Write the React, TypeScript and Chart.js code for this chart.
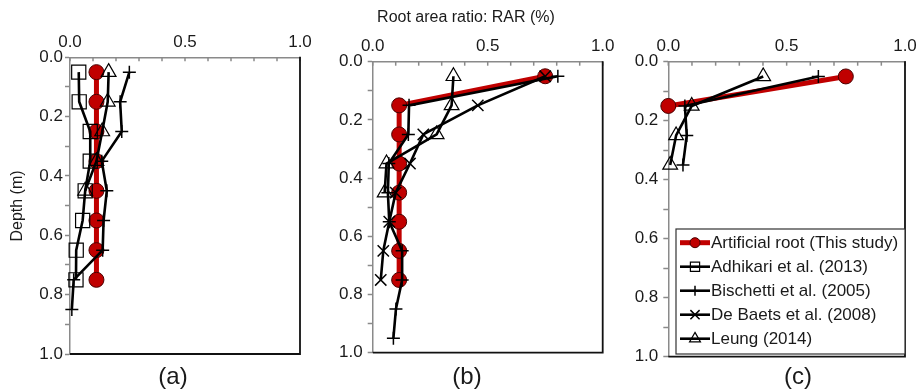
import React, { useEffect, useRef } from 'react';
import { Chart, registerables } from 'chart.js';

Chart.register(...registerables);

// ---------- data ----------
const DEPTHS = [0.05, 0.15, 0.25, 0.35, 0.45, 0.55, 0.65, 0.75, 0.85, 0.95];
const SERIES_NAMES = [
  'Artificial root (This study)',
  'Adhikari et al. (2013)',
  'Bischetti et al. (2005)',
  'De Baets et al. (2008)',
  'Leung (2014)',
];
const X_TICK_LABELS = ['0.0', '0.5', '1.0'];
const Y_TICK_LABELS = ['0.0', '0.2', '0.4', '0.6', '0.8', '1.0'];
const PANEL_LABELS = ['(a)', '(b)', '(c)'];
const X_TITLE = 'Root area ratio: RAR (%)';
const Y_TITLE = 'Depth (m)';

// panel (a)
const artificialA = [0.115, 0.115, 0.115, 0.115, 0.115, 0.115, 0.115, 0.115];
const adhikariA = [0.038, 0.040, 0.088, 0.088, 0.066, 0.055, 0.027, 0.026];
const bischettiA = [0.258, 0.218, 0.225, 0.138, 0.160, 0.146, 0.142, 0.016, 0.008];
const leungA = [0.168, 0.164, 0.140, 0.115, 0.066];

// panel (b)
const artificialB = [0.75, 0.115, 0.115, 0.115, 0.115, 0.115, 0.115, 0.115];
const bischettiB = [0.805, 0.158, 0.155, 0.070, 0.066, 0.072, 0.128, 0.128, 0.101, 0.090];
const deBaetsB = [0.75, 0.457, 0.220, 0.162, 0.100, 0.072, 0.046, 0.035];
const leungB = [0.351, 0.343, 0.278, 0.060, 0.052];

// panel (c)
const artificialC = [0.75, 0.0];
const bischettiC = [0.634, 0.070, 0.078, 0.062];
const leungC = [0.401, 0.099, 0.033, 0.008];

// ---------- styles ----------
const FONT = '"Liberation Sans", Arial, Helvetica, sans-serif';
const AXIS_GREY = '#8a8a8a';
const TEXT = '#1a1a1a';

type St = {
  color: string; lineWidth: number; pointStyle: string; radius: number;
  fill: string; stroke: string; strokeWidth: number; legendRadius: number;
};
const STYLES: St[] = [
  { color: '#C00000', lineWidth: 5, pointStyle: 'circle', radius: 7.5, fill: '#C00000', stroke: '#4a0000', strokeWidth: 1, legendRadius: 5 },
  { color: '#000000', lineWidth: 2.6, pointStyle: 'rect', radius: 10, fill: 'rgba(0,0,0,0)', stroke: '#000', strokeWidth: 1.2, legendRadius: 6.5 },
  { color: '#000000', lineWidth: 2.6, pointStyle: 'cross', radius: 6.5, fill: 'rgba(0,0,0,0)', stroke: '#000', strokeWidth: 1.5, legendRadius: 5 },
  { color: '#000000', lineWidth: 2.6, pointStyle: 'crossRot', radius: 8, fill: 'rgba(0,0,0,0)', stroke: '#000', strokeWidth: 1.5, legendRadius: 6.5 },
  { color: '#000000', lineWidth: 2.6, pointStyle: 'triangle', radius: 8.5, fill: 'rgba(0,0,0,0)', stroke: '#000', strokeWidth: 1.2, legendRadius: 6.3 },
];

const PANELS = [
  { left: 0, width: 313, yAxisW: 70, xAxisH: 57.3, padR: 13, padB: 36, yPad: 2, series: [artificialA, adhikariA, bischettiA, null, leungA], labelX: 173, yTitle: true, title: false, legend: false },
  { left: 305, width: 311, yAxisW: 67.7, xAxisH: 61.7, padR: 13.3, padB: 37.3, yPad: 5, series: [artificialB, null, bischettiB, deBaetsB, leungB], labelX: 162, yTitle: false, title: true, legend: false },
  { left: 610, width: 307, yAxisW: 58.3, xAxisH: 61.7, padR: 12, padB: 33.3, yPad: 5, series: [artificialC, null, bischettiC, null, leungC], labelX: 188, yTitle: false, title: false, legend: true },
];

function drawMarker(ctx: CanvasRenderingContext2D, st: St, x: number, y: number, r: number) {
  ctx.beginPath();
  switch (st.pointStyle) {
    case 'circle':
      ctx.arc(x, y, r, 0, Math.PI * 2);
      break;
    case 'rect': {
      const s = r * Math.SQRT1_2;
      ctx.rect(x - s, y - s, 2 * s, 2 * s);
      break;
    }
    case 'triangle':
      ctx.moveTo(x, y - r);
      ctx.lineTo(x + r * 0.866, y + r * 0.5);
      ctx.lineTo(x - r * 0.866, y + r * 0.5);
      ctx.closePath();
      break;
    case 'cross':
      ctx.moveTo(x - r, y); ctx.lineTo(x + r, y);
      ctx.moveTo(x, y - r); ctx.lineTo(x, y + r);
      break;
    case 'crossRot': {
      const d = r * Math.SQRT1_2;
      ctx.moveTo(x - d, y - d); ctx.lineTo(x + d, y + d);
      ctx.moveTo(x + d, y - d); ctx.lineTo(x - d, y + d);
      break;
    }
  }
  ctx.fillStyle = st.fill;
  ctx.fill();
  ctx.strokeStyle = st.stroke;
  ctx.lineWidth = st.strokeWidth;
  ctx.stroke();
}

function Panel({ idx }: { idx: number }) {
  const ref = useRef<HTMLCanvasElement>(null);
  const p = PANELS[idx];

  useEffect(() => {
    if (!ref.current) return;
    const datasets: any[] = [];
    p.series.forEach((vals, i) => {
      if (!vals) return;
      const st = STYLES[i];
      datasets.push({
        label: SERIES_NAMES[i],
        data: vals.map((v, j) => ({ x: v, y: DEPTHS[j] })),
        showLine: true,
        borderColor: st.color,
        borderWidth: st.lineWidth,
        borderJoinStyle: 'round',
        pointStyle: st.pointStyle,
        pointRadius: st.radius,
        pointHoverRadius: st.radius,
        pointBackgroundColor: st.fill,
        pointBorderColor: st.stroke,
        pointBorderWidth: st.strokeWidth,
        tension: 0,
        clip: false,
        order: i === 0 ? 1 : 0,
      });
    });

    const decor = {
      id: 'decor' + idx,
      beforeDatasetsDraw(chart: any) {
        const { ctx, chartArea: a, scales } = chart;
        ctx.save();
        ctx.strokeStyle = AXIS_GREY;
        ctx.lineWidth = 1.5;
        for (let k = 0; k <= 10; k++) {
          const x = scales.x.getPixelForValue(k / 10);
          ctx.beginPath();
          ctx.moveTo(x, a.top);
          ctx.lineTo(x, a.top + 4);
          ctx.stroke();
        }
        ctx.strokeStyle = '#111';
        ctx.lineWidth = 1.8;
        ctx.beginPath();
        ctx.moveTo(a.right, a.top - 0.5);
        ctx.lineTo(a.right, a.bottom);
        ctx.lineTo(a.left, a.bottom);
        ctx.stroke();
        ctx.restore();
      },
      afterDraw(chart: any) {
        const { ctx, chartArea: a } = chart;
        ctx.save();
        ctx.fillStyle = TEXT;
        ctx.textAlign = 'center';
        ctx.textBaseline = 'middle';
        ctx.font = `24px ${FONT}`;
        ctx.fillText(PANEL_LABELS[idx], p.labelX, 377);
        if (p.title) {
          ctx.font = `16px ${FONT}`;
          ctx.fillText(X_TITLE, 161, 18);
        }
        if (p.yTitle) {
          ctx.font = `16px ${FONT}`;
          ctx.translate(18, 206);
          ctx.rotate(-Math.PI / 2);
          ctx.fillText(Y_TITLE, 0, 0);
          ctx.setTransform(1, 0, 0, 1, 0, 0);
        }
        if (p.legend) {
          const lx = a.left + 7.7;
          const lr = a.right;
          const lt = a.top + 167.3;
          const lb = a.bottom - 2.7;
          ctx.fillStyle = '#ffffff';
          ctx.fillRect(lx, lt, lr - lx, lb - lt);
          ctx.strokeStyle = '#333';
          ctx.lineWidth = 1.2;
          ctx.strokeRect(lx, lt, lr - lx, lb - lt);
          SERIES_NAMES.forEach((name, i) => {
            const st = STYLES[i];
            const y = lt + 13.7 + i * 24;
            const x0 = lx + 4;
            ctx.strokeStyle = st.color;
            ctx.lineWidth = st.lineWidth;
            ctx.beginPath();
            ctx.moveTo(x0, y);
            ctx.lineTo(x0 + 30, y);
            ctx.stroke();
            drawMarker(ctx, st, x0 + 15, y, st.legendRadius);
            ctx.fillStyle = TEXT;
            ctx.textAlign = 'left';
            ctx.font = `17px ${FONT}`;
            ctx.fillText(name, x0 + 31, y + 0.5);
          });
        }
        ctx.restore();
      },
    };

    const chart = new Chart(ref.current, {
      type: 'scatter',
      data: { datasets },
      plugins: [decor],
      options: {
        animation: false,
        responsive: false,
        events: [],
        layout: { padding: { left: 0, top: 0, right: p.padR, bottom: p.padB } },
        plugins: { legend: { display: false }, tooltip: { enabled: false }, title: { display: false } },
        scales: {
          x: {
            type: 'linear',
            position: 'top',
            min: 0,
            max: 1,
            afterFit: (s: any) => { s.height = p.xAxisH; s.paddingLeft = 0; s.paddingRight = 0; },
            ticks: {
              stepSize: 0.1,
              autoSkip: false,
              maxRotation: 0,
              padding: 5,
              color: TEXT,
              font: { family: FONT, size: 17 },
              callback: (v: any) => {
                const k = Math.round(Number(v) * 10);
                return k % 5 === 0 ? X_TICK_LABELS[k / 5] : '';
              },
            },
            grid: { display: true, drawOnChartArea: false, drawTicks: false },
            border: { display: true, color: AXIS_GREY, width: 1.5 },
          },
          y: {
            type: 'linear',
            reverse: true,
            min: 0,
            max: 1,
            afterFit: (s: any) => { s.width = p.yAxisW; s.paddingTop = 0; s.paddingBottom = 0; },
            ticks: {
              stepSize: 0.1,
              autoSkip: false,
              padding: p.yPad,
              color: TEXT,
              font: { family: FONT, size: 17 },
              callback: (v: any) => {
                const k = Math.round(Number(v) * 10);
                return k % 2 === 0 ? Y_TICK_LABELS[k / 2] : '';
              },
            },
            grid: { display: true, drawOnChartArea: false, drawTicks: true, tickLength: 5, color: AXIS_GREY, tickWidth: 1.5 },
            border: { display: true, color: AXIS_GREY, width: 1.5 },
          },
        },
      } as any,
    });
    return () => chart.destroy();
  }, []);

  return (
    <div style={{ position: 'absolute', left: p.left, top: 0, width: p.width, height: 390 }}>
      <canvas ref={ref} width={p.width} height={390} style={{ width: p.width, height: 390, display: 'block' }} />
    </div>
  );
}

export default function App() {
  return (
    <div style={{ position: 'absolute', left: 0, top: 0, width: 917, height: 390, background: '#fff', overflow: 'hidden' }}>
      {PANELS.map((_, i) => <Panel key={i} idx={i} />)}
    </div>
  );
}
